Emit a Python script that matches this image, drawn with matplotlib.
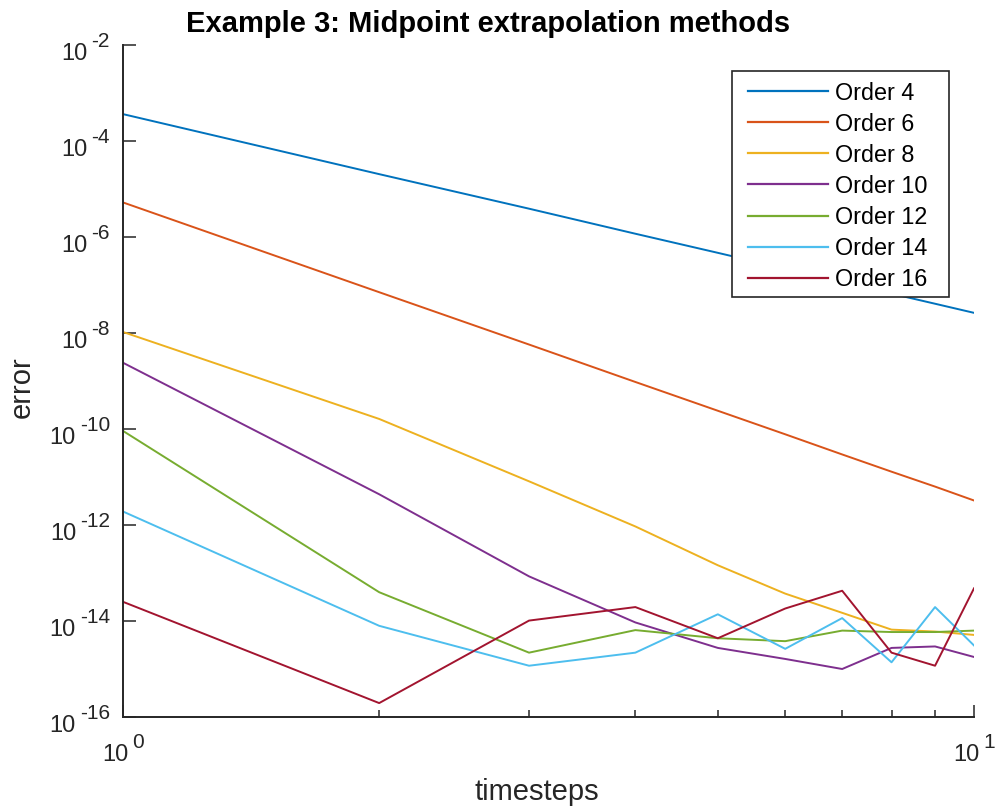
import math
import matplotlib
matplotlib.use("Agg")
import matplotlib.pyplot as plt
import matplotlib.transforms as mtransforms
from matplotlib.patches import Rectangle
from matplotlib.ticker import FixedLocator, NullFormatter

plt.rcParams['font.family'] = ['Liberation Sans', 'DejaVu Sans']

timesteps = [1, 2, 3, 4, 5, 6, 7, 8, 9, 10]
labels = ["Order 4", "Order 6", "Order 8", "Order 10", "Order 12", "Order 14", "Order 16"]
order4 = [3.63e-4, 2.04e-5, 3.89e-6, 1.17e-6, 4.68e-7, 2.19e-7, 1.15e-7, 6.61e-8, 4.07e-8, 2.63e-8]
order6 = [5.25e-6, 7.08e-8, 5.75e-9, 9.55e-10, 2.40e-10, 7.76e-11, 2.95e-11, 1.29e-11, 6.31e-12, 3.24e-12]
order8 = [1.05e-8, 1.62e-10, 8.13e-12, 9.33e-13, 1.45e-13, 3.72e-14, 1.48e-14, 6.61e-15, 6.03e-15, 5.13e-15]
order10 = [2.40e-9, 4.37e-12, 8.51e-14, 9.33e-15, 2.75e-15, 1.62e-15, 1.00e-15, 2.75e-15, 2.95e-15, 1.78e-15]
order12 = [9.12e-11, 3.98e-14, 2.19e-15, 6.46e-15, 4.37e-15, 3.80e-15, 6.31e-15, 5.89e-15, 5.89e-15, 6.31e-15]
order14 = [1.91e-12, 7.94e-15, 1.17e-15, 2.19e-15, 1.38e-14, 2.63e-15, 1.15e-14, 1.38e-15, 1.95e-14, 3.09e-15]
order16 = [2.51e-14, 1.95e-16, 1.02e-14, 1.95e-14, 4.37e-15, 1.82e-14, 4.27e-14, 2.19e-15, 1.17e-15, 4.79e-14]
series = [order4, order6, order8, order10, order12, order14, order16]
colors = ['#0072BD', '#D95319', '#EDB120', '#7E2F8E', '#77AC30', '#4DBEEE', '#A2142F']
yticks = [1e-16, 1e-14, 1e-12, 1e-10, 1e-8, 1e-6, 1e-4, 1e-2]
xticks = [1, 10]
xminor = [2, 3, 4, 5, 6, 7, 8, 9]

W, H = 998, 810
fig = plt.figure(figsize=(W / 100, H / 100), dpi=100)
ax = fig.add_axes([123 / W, 1 - 717 / H, 851 / W, 672 / H])

for vals, lab, c in zip(series, labels, colors):
    ax.plot(timesteps, vals, color=c, lw=1.4, label=lab)

ax.set_xscale('log')
ax.set_yscale('log')
ax.set_xlim(1, 10)
ax.set_ylim(1e-16, 1e-2)

axcol = '#262626'
for s in ['top', 'right']:
    ax.spines[s].set_visible(False)
for s in ['left', 'bottom']:
    ax.spines[s].set_color(axcol)
    ax.spines[s].set_linewidth(1.4)

ax.yaxis.set_major_locator(FixedLocator(yticks))
ax.yaxis.set_minor_locator(FixedLocator([]))
ax.yaxis.set_major_formatter(NullFormatter())
ax.xaxis.set_major_locator(FixedLocator(xticks))
ax.xaxis.set_minor_locator(FixedLocator(xminor))
ax.xaxis.set_major_formatter(NullFormatter())
ax.xaxis.set_minor_formatter(NullFormatter())
ax.tick_params(axis='both', which='major', direction='in', length=9, width=1.1, color=axcol)
ax.tick_params(axis='x', which='minor', direction='in', length=5, width=1.1, color=axcol)

# ---- MATLAB-like tick labels "10" + superscript exponent ----
BASE_FS = 17
EXP_FS = 15
GAP = 4  # px between base and exponent
renderer = fig.canvas.get_renderer()

def off(trans, dx, dy):
    return mtransforms.offset_copy(trans, fig=fig, x=dx, y=dy, units='dots')

ytrans = ax.get_yaxis_transform()  # x in axes, y in data
for v in yticks:
    e = int(round(math.log10(v)))
    te = ax.text(0, v, '%d' % e, fontsize=EXP_FS, color=axcol, ha='right', va='baseline',
                 transform=off(ytrans, -13, -2.3), clip_on=False)
    wexp = te.get_window_extent(renderer).width
    ax.text(0, v, '10', fontsize=BASE_FS, color=axcol, ha='right', va='baseline',
            transform=off(ytrans, -13 - wexp - GAP, -14.7), clip_on=False)

xtrans = ax.get_xaxis_transform()  # x in data, y in axes
for v in xticks:
    e = int(round(math.log10(v)))
    tb = ax.text(v, 0, '10', fontsize=BASE_FS, color=axcol, ha='left', va='baseline',
                 transform=xtrans, clip_on=False)
    te = ax.text(v, 0, '%d' % e, fontsize=EXP_FS, color=axcol, ha='left', va='baseline',
                 transform=xtrans, clip_on=False)
    wb = tb.get_window_extent(renderer).width
    we = te.get_window_extent(renderer).width
    total = wb + GAP + we
    tb.set_transform(off(xtrans, -total / 2, -43.7))
    te.set_transform(off(xtrans, -total / 2 + wb + GAP, -31.3))

# ---- axis labels and title ----
fig.text(537 / W, 1 - 800 / H, 'timesteps', fontsize=21, color=axcol, ha='center', va='baseline')
fig.text(21.5 / W, 1 - 387 / H, 'error', fontsize=21, color=axcol, ha='center', va='center',
         rotation=90)
fig.text(488 / W, 1 - 32.5 / H, 'Example 3: Midpoint extrapolation methods',
         ha='center', va='baseline', fontsize=21, fontweight='bold', color='black')

# ---- legend ----
ax.add_patch(Rectangle(((732 - 123) / 851, (717 - 297) / 672), (949 - 732) / 851, (297 - 71) / 672,
                       transform=ax.transAxes, facecolor='white', edgecolor=axcol,
                       linewidth=1.2, zorder=4, clip_on=False))
leg = ax.legend(loc='upper left', bbox_to_anchor=((748 - 123) / 851, (717 - 81.5) / 672),
                fontsize=16.8, handlelength=3.43, handletextpad=0.3, labelspacing=0.345,
                borderpad=0, borderaxespad=0, frameon=False)
leg.set_zorder(5)
for line in leg.get_lines():
    line.set_linewidth(1.6)

fig.savefig('out.png', dpi=100)
